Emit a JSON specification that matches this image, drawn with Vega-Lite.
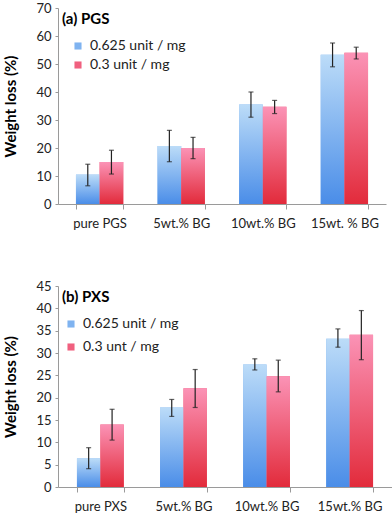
{
  "$schema": "https://vega.github.io/schema/vega-lite/v6.json",
  "padding": {"left": 3, "top": 2, "right": 4, "bottom": 4},
  "background": "white",
  "spacing": 50,
  "config": {
    "view": {"stroke": null},
    "font": "Lato",
    "axis": {"grid": false, "domainColor": "#9a9a9a", "tickColor": "#9a9a9a", "labelFont": "Lato", "labelFontSize": 13, "labelColor": "#222", "titleFont": "Lato", "titleFontSize": 15, "titleFontWeight": "bold", "titleColor": "#000"},
    "legend": {"labelFont": "Lato", "labelFontSize": 14, "labelColor": "#222", "titleFont": "Lato", "titleFontSize": 15, "titleFontWeight": "bold", "titleColor": "#000", "symbolType": "square", "symbolSize": 50, "symbolStrokeWidth": 0, "padding": 0, "labelOffset": 5}
  },
  "resolve": {"scale": {"color": "independent", "x": "independent", "y": "independent", "xOffset": "independent"}, "legend": {"color": "independent"}},
  "vconcat": [
    {
      "width": 328,
      "height": 196,
      "data": {"values": [
        {"c": "pure PGS", "s": "0.625 unit / mg", "v": 10.5, "lo": 6.5, "hi": 14.2},
        {"c": "pure PGS", "s": "0.3 unit / mg", "v": 15.0, "lo": 10.7, "hi": 19.2},
        {"c": "5wt.% BG", "s": "0.625 unit / mg", "v": 20.7, "lo": 15.1, "hi": 26.3},
        {"c": "5wt.% BG", "s": "0.3 unit / mg", "v": 20.0, "lo": 16.2, "hi": 23.8},
        {"c": "10wt.% BG", "s": "0.625 unit / mg", "v": 35.5, "lo": 31.0, "hi": 40.0},
        {"c": "10wt.% BG", "s": "0.3 unit / mg", "v": 34.7, "lo": 32.3, "hi": 37.0},
        {"c": "15wt. % BG", "s": "0.625 unit / mg", "v": 53.3, "lo": 49.0, "hi": 57.5},
        {"c": "15wt. % BG", "s": "0.3 unit / mg", "v": 54.0, "lo": 51.8, "hi": 56.0}
      ]},
      "encoding": {
        "x": {"field": "c", "type": "nominal", "sort": null, "title": null,
              "scale": {"paddingInner": 0.42, "paddingOuter": 0.22},
              "axis": {"labelAngle": 0, "tickBand": "extent", "tickSize": 5, "labelPadding": 8}},
        "xOffset": {"field": "s", "type": "nominal", "sort": ["0.625 unit / mg", "0.3 unit / mg"]},
        "y": {"field": "v", "type": "quantitative", "title": "Weight loss (%)",
              "scale": {"domain": [0, 70]},
              "axis": {"values": [0, 10, 20, 30, 40, 50, 60, 70], "tickSize": 3, "labelPadding": 4, "titleX": -40}}
      },
      "layer": [
        {"mark": {"type": "bar"},
         "encoding": {
           "color": {"field": "s", "type": "nominal",
             "scale": {"domain": ["0.625 unit / mg", "0.3 unit / mg"], "range": ["#7fb3f0", "#f0607f"]},
             "legend": {"title": "(a) PGS", "orient": "top-left", "offset": 4, "titlePadding": 12, "rowPadding": 5, "symbolOffset": 9}}
         }},
        {"transform": [{"filter": "datum.s == '0.625 unit / mg'"}],
         "mark": {"type": "bar", "color": {"gradient": "linear", "x1": 0, "y1": 0, "x2": 0, "y2": 1, "stops": [{"offset": 0, "color": "#bcdcf8"}, {"offset": 1, "color": "#4a8de8"}]}},
         "encoding": {}},
        {"transform": [{"filter": "datum.s == '0.3 unit / mg'"}],
         "mark": {"type": "bar", "color": {"gradient": "linear", "x1": 0, "y1": 0, "x2": 0, "y2": 1, "stops": [{"offset": 0, "color": "#fb93b6"}, {"offset": 1, "color": "#e22b3b"}]}},
         "encoding": {}},
        {"mark": {"type": "rule", "color": "#222", "strokeWidth": 1.2},
         "encoding": {"y": {"field": "lo", "type": "quantitative"}, "y2": {"field": "hi"}}},
        {"mark": {"type": "tick", "color": "#222", "size": 5, "thickness": 1.2},
         "encoding": {"y": {"field": "lo", "type": "quantitative"}}},
        {"mark": {"type": "tick", "color": "#222", "size": 5, "thickness": 1.2},
         "encoding": {"y": {"field": "hi", "type": "quantitative"}}}
      ]
    },
    {
      "width": 334,
      "height": 201,
      "data": {"values": [
        {"c": "pure PXS", "s": "0.625 unit / mg", "v": 6.4, "lo": 4.1, "hi": 8.8},
        {"c": "pure PXS", "s": "0.3 unt / mg", "v": 14.0, "lo": 10.5, "hi": 17.4},
        {"c": "5wt.% BG", "s": "0.625 unit / mg", "v": 17.8, "lo": 15.8, "hi": 19.6},
        {"c": "5wt.% BG", "s": "0.3 unt / mg", "v": 22.1, "lo": 17.8, "hi": 26.3},
        {"c": "10wt.% BG", "s": "0.625 unit / mg", "v": 27.4, "lo": 26.2, "hi": 28.7},
        {"c": "10wt.% BG", "s": "0.3 unt / mg", "v": 24.8, "lo": 21.3, "hi": 28.4},
        {"c": "15wt.% BG", "s": "0.625 unit / mg", "v": 33.2, "lo": 31.3, "hi": 35.4},
        {"c": "15wt.% BG", "s": "0.3 unt / mg", "v": 34.1, "lo": 28.5, "hi": 39.5}
      ]},
      "encoding": {
        "x": {"field": "c", "type": "nominal", "sort": null, "title": null,
              "scale": {"paddingInner": 0.436, "paddingOuter": 0.228},
              "axis": {"labelAngle": 0, "tickBand": "extent", "tickSize": 5, "labelPadding": 8}},
        "xOffset": {"field": "s", "type": "nominal", "sort": ["0.625 unit / mg", "0.3 unt / mg"]},
        "y": {"field": "v", "type": "quantitative", "title": "Weight loss (%)",
              "scale": {"domain": [0, 45]},
              "axis": {"values": [0, 5, 10, 15, 20, 25, 30, 35, 40, 45], "tickSize": 3, "labelPadding": 4, "titleX": -40}}
      },
      "layer": [
        {"mark": {"type": "bar"},
         "encoding": {
           "color": {"field": "s", "type": "nominal",
             "scale": {"domain": ["0.625 unit / mg", "0.3 unt / mg"], "range": ["#7fb3f0", "#f0607f"]},
             "legend": {"title": "(b) PXS", "orient": "top-left", "offset": 4, "titlePadding": 12, "rowPadding": 9, "symbolOffset": 2}}
         }},
        {"transform": [{"filter": "datum.s == '0.625 unit / mg'"}],
         "mark": {"type": "bar", "color": {"gradient": "linear", "x1": 0, "y1": 0, "x2": 0, "y2": 1, "stops": [{"offset": 0, "color": "#bcdcf8"}, {"offset": 1, "color": "#4a8de8"}]}},
         "encoding": {}},
        {"transform": [{"filter": "datum.s == '0.3 unt / mg'"}],
         "mark": {"type": "bar", "color": {"gradient": "linear", "x1": 0, "y1": 0, "x2": 0, "y2": 1, "stops": [{"offset": 0, "color": "#fb93b6"}, {"offset": 1, "color": "#e22b3b"}]}},
         "encoding": {}},
        {"mark": {"type": "rule", "color": "#222", "strokeWidth": 1.2},
         "encoding": {"y": {"field": "lo", "type": "quantitative"}, "y2": {"field": "hi"}}},
        {"mark": {"type": "tick", "color": "#222", "size": 5, "thickness": 1.2},
         "encoding": {"y": {"field": "lo", "type": "quantitative"}}},
        {"mark": {"type": "tick", "color": "#222", "size": 5, "thickness": 1.2},
         "encoding": {"y": {"field": "hi", "type": "quantitative"}}}
      ]
    }
  ]
}
